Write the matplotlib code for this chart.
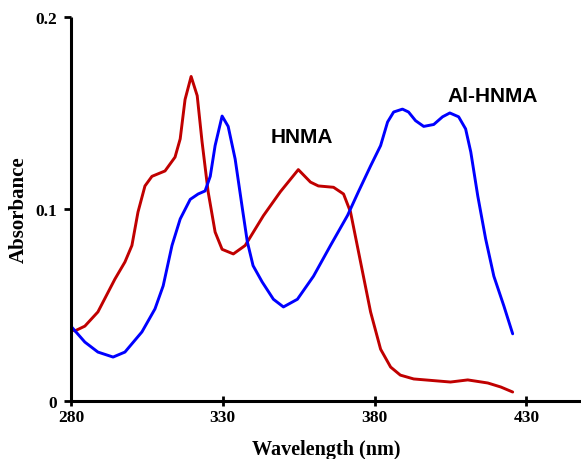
import matplotlib.pyplot as plt

# HNMA (red)
hnma_x = [280, 281.3, 284.6, 288.9, 294.5, 297.8, 300.1, 302.1, 304.4, 306.7, 311, 314.3,
          316, 317.6, 319.6, 321.6, 323.2, 325.2, 327.5, 329.8, 333.5, 337.4, 343.4, 349,
          354.9, 358.9, 361.5, 366.5, 369.8, 372.1, 375.4, 378.7, 382, 385.3, 388.5, 392.9,
          405, 410.7, 417.3, 421.6, 425.5]
hnma_y = [0.0375, 0.0365, 0.039, 0.0464, 0.0635, 0.0724, 0.081, 0.0984, 0.112, 0.117, 0.1198, 0.127,
          0.1365, 0.157, 0.169, 0.159, 0.135, 0.109, 0.088, 0.079, 0.0766, 0.081, 0.0965, 0.109,
          0.1205, 0.114, 0.112, 0.1113, 0.1078, 0.0984, 0.0724, 0.0464, 0.027, 0.0177, 0.0135, 0.0115,
          0.0099, 0.011, 0.0094, 0.0073, 0.0047]

# Al-HNMA (blue)
al_x = [280, 284.6, 288.9, 293.9, 297.8, 303.4, 307.7, 310.4, 313.3, 316, 319.3, 321.9,
        324.2, 325.9, 327.5, 329.8, 331.8, 334.1, 336.5, 338.1, 340, 343, 346.7, 350,
        354.6, 359.9, 365.5, 371.1, 374.7, 378.7, 382, 384.3, 386.3, 389.2, 391.2, 393.5,
        396.2, 399.5, 402.4, 404.8, 407.7, 410, 411.7, 414, 416.6, 419.3, 422.6, 425.5]
al_y = [0.039, 0.0307, 0.0255, 0.0229, 0.0255, 0.036, 0.048, 0.060, 0.081, 0.0948, 0.105, 0.1078,
        0.1094, 0.117, 0.133, 0.1484, 0.143, 0.126, 0.100, 0.083, 0.0705, 0.062, 0.053, 0.049,
        0.053, 0.065, 0.081, 0.0966, 0.109, 0.1224, 0.133, 0.1453, 0.1505, 0.152, 0.1505, 0.146,
        0.143, 0.144, 0.148, 0.150, 0.148, 0.1417, 0.1297, 0.1068, 0.0844, 0.065, 0.0495, 0.035]

xticks = [280, 330, 380, 430]
xticklabels = ['280', '330', '380', '430']
yticks = [0, 0.1, 0.2]
yticklabels = ['0', '0.1', '0.2']

fig = plt.figure(figsize=(5.81, 4.6), dpi=100)
ax = fig.add_axes([0.122, 0.126, 0.878, 0.835])

ax.plot(hnma_x, hnma_y, color='#C00000', lw=2.1, solid_joinstyle='round', solid_capstyle='round')
ax.plot(al_x, al_y, color='#0000FF', lw=2.1, solid_joinstyle='round', solid_capstyle='round')

ax.text(356, 0.1375, 'HNMA', family='Liberation Sans', weight='bold', fontsize=15,
        ha='center', va='center')
ax.text(419, 0.159, 'Al-HNMA', family='Liberation Sans', weight='bold', fontsize=15,
        ha='center', va='center')

ax.set_xlim(280, 448)
ax.set_ylim(0, 0.2)
tfont = dict(family='Liberation Serif', weight='bold', size=12.5)
ax.set_xticks(xticks, labels=xticklabels, fontdict=tfont)
ax.set_yticks(yticks, labels=yticklabels, fontdict=tfont)

for s in ['top', 'right']:
    ax.spines[s].set_visible(False)
for s in ['left', 'bottom']:
    ax.spines[s].set_linewidth(2.2)
    ax.spines[s].set_color('black')
    ax.spines[s].set_capstyle('butt')

ax.tick_params(axis='y', width=2, length=5, direction='out', pad=5)
ax.tick_params(axis='x', width=2, length=7, direction='inout', pad=2)

ax.set_xlabel('Wavelength (nm)', family='Liberation Serif', weight='bold', fontsize=14.5, labelpad=10)
ax.set_ylabel('Absorbance', family='Liberation Serif', weight='bold', fontsize=15, labelpad=5)

fig.savefig('out.png', dpi=100)
